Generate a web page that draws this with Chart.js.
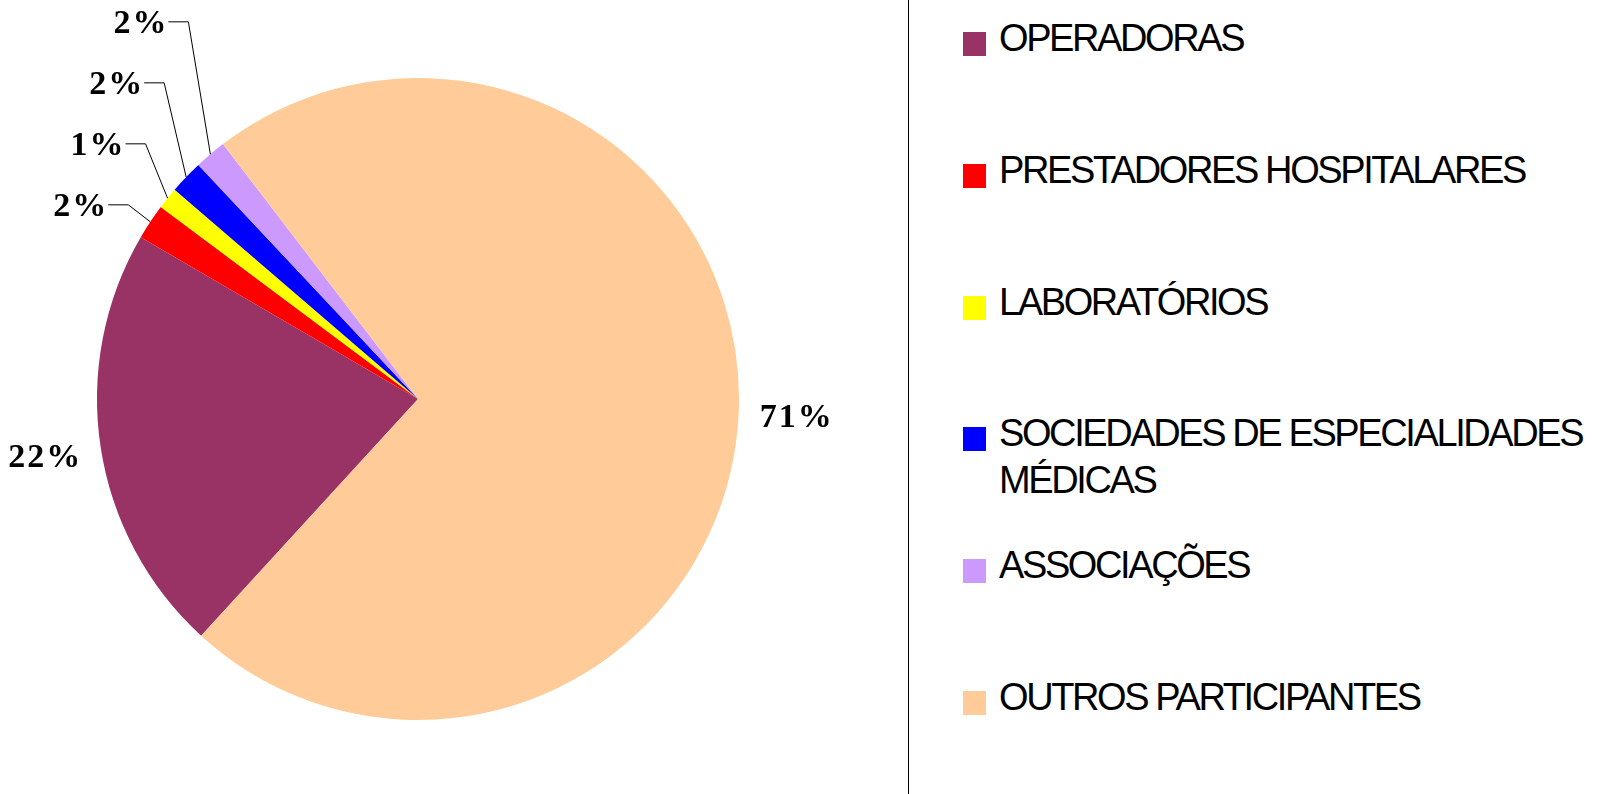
<!DOCTYPE html>
<html>
<head>
<meta charset="utf-8">
<script src="https://cdn.jsdelivr.net/npm/chart.js@4/dist/chart.umd.min.js"></script>
<style>
  body { margin: 0; background: #fff; width: 1619px; height: 794px; overflow: hidden; position: relative; }
  #pie { position: absolute; left: 0; top: 0; }
  #divider { position: absolute; left: 908px; top: 0; width: 1px; height: 794px; background: #000; }
  .item { position: absolute; left: 963px; width: 650px; font-family: 'Liberation Sans', Arial, sans-serif;
          font-size: 38px; letter-spacing: -2.4px; line-height: 47px; color: #000; }
  .item .sw { position: absolute; left: 0; top: 17px; width: 23px; height: 24px; }
  .item .tx { position: absolute; left: 36px; width: 615px; }
</style>
</head>
<body>
<canvas id="pie" width="908" height="794"></canvas>
<div id="divider"></div>
<div id="legend"></div>
<script>
// categories
const categories = ['OPERADORAS', 'PRESTADORES HOSPITALARES', 'LABORATÓRIOS',
  'SOCIEDADES DE ESPECIALIDADES MÉDICAS', 'ASSOCIAÇÕES', 'OUTROS PARTICIPANTES'];
// share of each slice
const shares = [21.6, 1.8, 1.1, 1.7, 1.6, 72.2];
// labels as printed on the chart
const pctLabels = ['22%', '2%', '1%', '2%', '2%', '71%'];
const sliceColors = ['#993366', '#FF0000', '#FFFF00', '#0000FF', '#CC99FF', '#FFCC99'];

// legend in html, built from the chart's own legend items
const htmlLegend = {
  id: 'htmlLegend',
  afterUpdate(chart) {
    const box = document.getElementById('legend');
    box.innerHTML = '';
    const items = chart.options.plugins.legend.labels.generateLabels(chart);
    items.forEach((it, i) => {
      const row = document.createElement('div');
      row.className = 'item';
      row.style.top = (15 + i * 131.8) + 'px';
      const sw = document.createElement('span');
      sw.className = 'sw';
      sw.style.background = it.fillStyle;
      const tx = document.createElement('span');
      tx.className = 'tx';
      tx.textContent = it.text;
      row.appendChild(sw);
      row.appendChild(tx);
      box.appendChild(row);
    });
  }
};

// percentage labels, small slices get leader lines stacked upwards
const pctPlugin = {
  id: 'pctPlugin',
  afterDatasetsDraw(chart) {
    const ctx = chart.ctx;
    const arcs = chart.getDatasetMeta(0).data;
    const total = shares.reduce((a, b) => a + b, 0);
    ctx.save();
    ctx.font = 'bold 34px "Liberation Serif", "Times New Roman", serif';
    ctx.letterSpacing = '2px';
    ctx.fillStyle = '#000';
    ctx.strokeStyle = '#000';
    ctx.lineWidth = 1;
    let k = 0, baseY = null;
    arcs.forEach((arc, i) => {
      const mid = (arc.startAngle + arc.endAngle) / 2;
      const r = arc.outerRadius;
      if (shares[i] / total < 0.05) {
        const ax = arc.x + Math.cos(mid) * r;
        const ay = arc.y + Math.sin(mid) * r;
        if (baseY === null) baseY = ay - 17;
        const ex = ax - 22;
        const ey = baseY - k * 61;
        ctx.beginPath();
        ctx.moveTo(ax, ay);
        ctx.lineTo(ex, ey);
        ctx.lineTo(ex - 20, ey);
        ctx.stroke();
        ctx.textAlign = 'right';
        ctx.fillText(pctLabels[i], ex - 20, ey + 11);
        k++;
      } else {
        const lx = arc.x + Math.cos(mid) * (r + 57);
        const ly = arc.y + Math.sin(mid) * (r + 57);
        ctx.textAlign = 'center';
        ctx.fillText(pctLabels[i], lx + 1, ly + 11);
      }
    });
    ctx.restore();
  }
};

new Chart(document.getElementById('pie'), {
  type: 'pie',
  data: {
    labels: categories,
    datasets: [{
      data: shares,
      backgroundColor: sliceColors,
      borderWidth: 0,
      hoverOffset: 0
    }]
  },
  options: {
    responsive: false,
    devicePixelRatio: 1,
    animation: false,
    rotation: 222.5,
    layout: { padding: { left: 97, right: 169, top: 78, bottom: 74 } },
    plugins: {
      legend: { display: false },
      tooltip: { enabled: false }
    }
  },
  plugins: [htmlLegend, pctPlugin]
});
</script>
</body>
</html>
